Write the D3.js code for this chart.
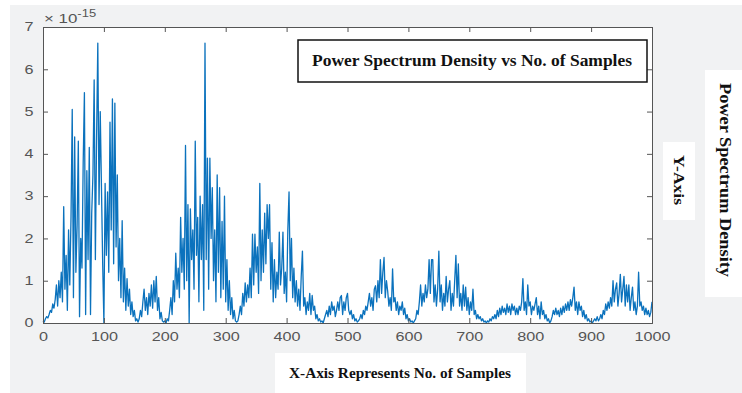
<!DOCTYPE html>
<html>
<head>
<meta charset="utf-8">
<script src="https://cdn.jsdelivr.net/npm/d3@7"></script>
<style>
  html, body { margin: 0; padding: 0; background: #ffffff; }
  svg { display: block; }
</style>
</head>
<body>
<svg id="chart" width="742" height="393"></svg>
<script>
// ---- DATA (values in units of 1e-15, one value every 2 samples, samples 0..1000) ----
const sampleStep = 2;
const psd = [
  0.05, 0.02, 0.1, 0.15, 0.12, 0.2, 0.3, 0.25, 0.45, 0.35,
  0.55, 0.9, 0.4, 1.0, 0.6, 1.2, 0.5, 2.75, 0.8, 1.6,
  0.3, 2.2, 0.9, 2.5, 5.05, 0.6, 4.4, 1.2, 2.3, 4.3,
  0.15, 2.0, 1.3, 3.8, 5.45, 0.2, 3.6, 1.5, 4.15, 0.2,
  2.6, 3.5, 5.75, 1.5, 4.4, 6.62, 2.8, 5.0, 3.2, 1.4,
  0.0, 3.3, 1.6, 3.1, 1.2, 4.75, 2.2, 5.3, 1.4, 5.2,
  1.8, 3.5, 1.0, 2.0, 0.6, 2.42, 0.5, 1.3, 0.3, 1.05,
  0.4, 0.8, 0.2, 0.5, 0.15, 0.3, 0.05, 0.1, 0.02, 0.1,
  0.3, 0.15, 0.5, 0.8, 0.3, 0.6, 0.2, 0.7, 0.4, 0.9,
  0.35, 1.0, 0.5, 1.1, 0.3, 0.6, 0.1, 0.25, 0.05, 0.02,
  0.05, 0.0, 0.1, 0.05, 0.3, 0.6, 0.2, 1.0, 0.5, 1.65,
  0.8, 1.3, 0.6, 2.5, 1.2, 2.0, 0.8, 4.2, 1.0, 2.8,
  0.0, 2.7, 1.5, 2.2, 0.8, 4.3, 1.6, 2.5, 0.5, 3.0,
  1.5, 2.8, 0.3, 6.62, 1.5, 3.9, 0.8, 3.9, 2.0, 3.2,
  1.0, 2.2, 0.5, 3.5, 1.2, 3.2, 0.6, 2.4, 0.8, 3.0,
  0.5, 1.5, 0.3, 1.0, 0.2, 0.6, 0.1, 0.3, 0.05, 0.02,
  0.05, 0.2, 0.4, 0.2, 0.7, 0.4, 0.95, 0.5, 0.9, 0.6,
  1.3, 0.6, 2.1, 0.9, 2.1, 1.2, 1.8, 0.7, 3.3, 1.0,
  2.2, 1.2, 2.6, 1.4, 2.8, 2.0, 2.8, 0.8, 1.9, 0.5,
  1.5, 0.6, 1.2, 0.8, 2.15, 0.9, 1.3, 2.15, 0.7, 1.2,
  0.5, 2.2, 3.1, 1.0, 2.0, 0.6, 1.3, 0.5, 1.0, 0.4,
  0.8, 0.3, 1.1, 1.7, 0.4, 0.6, 0.2, 0.5, 0.3, 0.7,
  0.2, 0.65, 0.3, 0.4, 0.1, 0.2, 0.05, 0.1, 0.02, 0.05,
  0.0, 0.1, 0.2, 0.3, 0.15, 0.4, 0.2, 0.5, 0.3, 0.4,
  0.15, 0.3, 0.5, 0.3, 0.6, 0.65, 0.2, 0.5, 0.3, 0.6,
  0.7, 0.3, 0.2, 0.3, 0.1, 0.2, 0.05, 0.1, 0.02, 0.05,
  0.1, 0.2, 0.1, 0.3, 0.2, 0.4, 0.3, 0.5, 0.7, 0.4,
  0.6, 0.3, 0.8, 0.88, 0.5, 1.0, 0.6, 1.5, 0.7, 1.2,
  1.55, 0.6, 1.0, 0.75, 0.4, 0.6, 0.3, 1.28, 0.5, 0.6,
  0.3, 0.5, 0.2, 0.4, 0.3, 0.5, 0.2, 0.35, 0.1, 0.2,
  0.05, 0.1, 0.02, 0.05, 0.0, 0.05, 0.1, 0.3, 0.2, 0.5,
  0.9, 0.4, 0.7, 0.5, 0.9, 0.6, 0.8, 1.5, 0.7, 1.5,
  1.5, 0.5, 0.9, 0.4, 0.8, 1.7, 0.5, 0.9, 0.3, 0.7,
  0.4, 1.1, 0.5, 0.8, 1.0, 0.3, 0.7, 0.4, 1.0, 1.6,
  0.6, 1.4, 0.4, 0.7, 0.3, 0.9, 0.4, 0.85, 0.3, 0.6,
  0.2, 0.5, 0.3, 0.8, 0.2, 0.3, 0.1, 0.2, 0.1, 0.15,
  0.05, 0.1, 0.02, 0.05, 0.0, 0.05, 0.02, 0.1, 0.05, 0.15,
  0.1, 0.2, 0.1, 0.3, 0.15, 0.35, 0.2, 0.4, 0.25, 0.35,
  0.2, 0.45, 0.25, 0.4, 0.2, 0.45, 0.3, 0.4, 0.2, 0.35,
  0.2, 0.4, 0.3, 0.5, 1.05, 0.3, 0.5, 0.2, 0.9, 0.4,
  0.5, 0.2, 0.4, 0.3, 0.45, 0.6, 0.2, 0.4, 0.1, 0.5,
  0.2, 0.3, 0.1, 0.2, 0.05, 0.1, 0.0, 0.05, 0.15, 0.3,
  0.2, 0.35, 0.2, 0.3, 0.15, 0.35, 0.2, 0.4, 0.25, 0.45,
  0.3, 0.5, 0.3, 0.55, 0.4, 0.6, 0.85, 0.3, 0.5, 0.2,
  0.5, 0.3, 0.4, 0.15, 0.3, 0.1, 0.2, 0.05, 0.1, 0.02,
  0.05, 0.0, 0.05, 0.1, 0.05, 0.15, 0.05, 0.1, 0.2, 0.1,
  0.3, 0.2, 0.45, 0.3, 0.5, 0.35, 0.6, 0.4, 1.0, 0.5,
  0.8, 0.95, 0.4, 0.7, 1.15, 0.5, 0.8, 1.1, 0.4, 0.9,
  0.5, 0.9, 0.3, 0.6, 0.85, 0.3, 0.5, 0.2, 0.4, 1.2,
  0.4, 0.5, 0.3, 0.4, 0.2, 0.35, 0.2, 0.3, 0.15, 0.25,
  0.5
];
const xTicks = [0, 100, 200, 300, 400, 500, 600, 700, 800, 900, 1000];
const yTicks = [0, 1, 2, 3, 4, 5, 6, 7];
const exponentLabel = "-15";
const titleText = "Power Spectrum Density vs No. of Samples";
const xLabelText = "X-Axis Represents No. of Samples";
const yAxisText = "Y-Axis";
const yLabelText = "Power Spectrum Density";

// ---- LAYOUT ----
const svg = d3.select("#chart");
const L = 43, R = 652, T = 27, B = 323;
const serif = "'Liberation Serif', 'DejaVu Serif', serif";
const sans = "'Liberation Sans', Arial, sans-serif";

// figure background
svg.append("rect").attr("x", 10).attr("y", 5).attr("width", 732).attr("height", 388).attr("fill", "#f1f2f3");

const x = d3.scaleLinear().domain([0, 1000]).range([L, R]);
const y = d3.scaleLinear().domain([0, 7]).range([B, T]);

// axes area
svg.append("rect").attr("x", L).attr("y", T).attr("width", R - L).attr("height", B - T).attr("fill", "#ffffff");

// line
const pts = psd.map((v, i) => [i * sampleStep, v]);
svg.append("path")
  .datum(pts)
  .attr("fill", "none")
  .attr("stroke", "#0b72bd")
  .attr("stroke-width", 1.3)
  .attr("stroke-linejoin", "round")
  .attr("d", d3.line().x(d => x(d[0])).y(d => y(d[1])));

// axes
const axisColor = "#555555";
const tickLen = 5;
const gx = svg.append("g").attr("transform", `translate(0,${B})`)
  .call(d3.axisBottom(x).tickValues(xTicks).tickSize(-tickLen).tickPadding(9).tickFormat(d3.format("d")));
const gxTop = svg.append("g").attr("transform", `translate(0,${T})`)
  .call(d3.axisTop(x).tickValues(xTicks).tickSize(-tickLen).tickFormat(""));
const gy = svg.append("g").attr("transform", `translate(${L},0)`)
  .call(d3.axisLeft(y).tickValues(yTicks).tickSize(-tickLen).tickPadding(10).tickFormat(d3.format("d")));
const gyR = svg.append("g").attr("transform", `translate(${R},0)`)
  .call(d3.axisRight(y).tickValues(yTicks).tickSize(-tickLen).tickFormat(""));

[gx, gxTop, gy, gyR].forEach(g => {
  g.select(".domain").attr("stroke", axisColor).attr("stroke-width", 1);
  g.selectAll(".tick line").attr("stroke", axisColor);
});
gx.selectAll(".tick text")
  .attr("font-family", sans).attr("font-size", 12).attr("fill", "#555555")
  .attr("transform", "scale(1.35,1)")
  .attr("dy", "0.71em");
gy.selectAll(".tick text")
  .attr("font-family", sans).attr("font-size", 12).attr("fill", "#555555")
  .attr("x", -7).attr("transform", "scale(1.35,1)");

// exponent
const expG = svg.append("text").attr("transform", `translate(${L + 1},23) scale(1.3,1)`)
  .attr("font-family", sans).attr("font-size", 13).attr("fill", "#555555");
expG.append("tspan").text("\u00d7 10");
expG.append("tspan").attr("dy", -6).attr("font-size", 10).text(exponentLabel);

// title box
svg.append("rect").attr("x", 298).attr("y", 40).attr("width", 349).attr("height", 42)
  .attr("fill", "#ffffff").attr("stroke", "#111111").attr("stroke-width", 1.5);
svg.append("text").attr("x", 472).attr("y", 66).attr("text-anchor", "middle")
  .attr("font-family", serif).attr("font-weight", "bold").attr("font-size", 17).attr("fill", "#111111")
  .attr("textLength", 320).attr("lengthAdjust", "spacingAndGlyphs")
  .text(titleText);

// x label box
svg.append("rect").attr("x", 275).attr("y", 353).attr("width", 251).attr("height", 40).attr("fill", "#ffffff");
svg.append("text").attr("x", 400).attr("y", 378).attr("text-anchor", "middle")
  .attr("font-family", serif).attr("font-weight", "bold").attr("font-size", 15).attr("fill", "#111111")
  .attr("textLength", 222).attr("lengthAdjust", "spacingAndGlyphs")
  .text(xLabelText);

// Y-Axis box
svg.append("rect").attr("x", 663).attr("y", 142).attr("width", 32).attr("height", 78).attr("fill", "#ffffff");
svg.append("text").attr("transform", "translate(674,180) rotate(90)").attr("text-anchor", "middle")
  .attr("font-family", serif).attr("font-weight", "bold").attr("font-size", 14).attr("fill", "#111111")
  .attr("textLength", 50).attr("lengthAdjust", "spacingAndGlyphs")
  .text(yAxisText);

// PSD box
svg.append("rect").attr("x", 705).attr("y", 70).attr("width", 37).attr("height", 227).attr("fill", "#ffffff");
svg.append("text").attr("transform", "translate(720,180) rotate(90)").attr("text-anchor", "middle")
  .attr("font-family", serif).attr("font-weight", "bold").attr("font-size", 17).attr("fill", "#111111")
  .attr("textLength", 194).attr("lengthAdjust", "spacingAndGlyphs")
  .text(yLabelText);
</script>
</body>
</html>
